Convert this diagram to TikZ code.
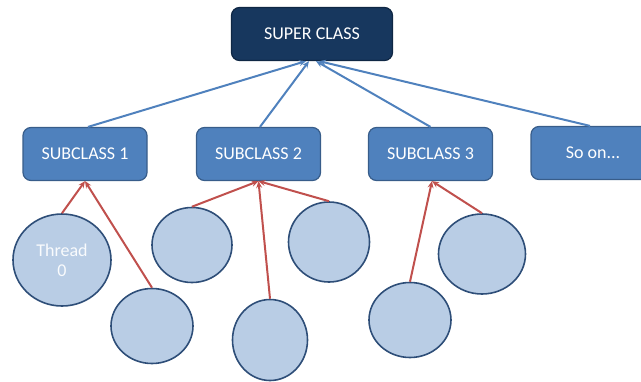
\documentclass[tikz,border=0pt]{standalone}
\usepackage{fontspec}
\setmainfont{Carlito}
\usetikzlibrary{arrows.meta,shapes.geometric}
\definecolor{navy}{HTML}{17375E}
\definecolor{navyedge}{HTML}{0F2744}
\definecolor{accent}{HTML}{4F81BD}
\definecolor{accentedge}{HTML}{385D8A}
\definecolor{paleblue}{HTML}{B9CDE5}
\definecolor{ringedge}{HTML}{2E4E78}
\definecolor{redline}{HTML}{C0504D}
\tikzset{
  rootbox/.style={draw=navyedge, line width=1.2pt, fill=navy, rounded corners=8pt,
    minimum width=161pt, minimum height=53pt, inner sep=0pt, text=white,
    font=\fontsize{18}{21}\selectfont},
  classbox/.style={draw=accentedge, line width=1.2pt, fill=accent, rounded corners=8pt,
    minimum width=124pt, minimum height=53pt, inner sep=0pt, text=white,
    font=\fontsize{18}{21}\selectfont},
  threadnode/.style={ellipse, draw=ringedge, line width=1.6pt, fill=paleblue,
    inner sep=0pt, text=white!92!paleblue, align=center,
    font=\fontsize{18}{20}\selectfont},
  inherit/.style={draw=accent, line width=2pt,
    -{Stealth[length=7pt,width=6pt,inset=2.5pt]}},
  member/.style={draw=redline, line width=2pt,
    -{Stealth[length=7pt,width=6pt,inset=2.5pt]}},
}
\begin{document}
\begin{tikzpicture}[x=1pt,y=-1pt]
\useasboundingbox (0,0) rectangle (641,381);
\clip (0,0) rectangle (641,381);

% class hierarchy
\node[rootbox]  (sup)  at (312,34)    {SUPER CLASS};
\node[classbox] (sub1) at (85,154)    {SUBCLASS 1};
\node[classbox] (sub2) at (258.5,154) {SUBCLASS 2};
\node[classbox] (sub3) at (430.5,154) {SUBCLASS 3};
\node[classbox] (more) at (593,153)   {So on...};

% threads
\node[threadnode, minimum width=98pt, minimum height=92pt] (t0) at (62,260)  {Thread\\0};
\node[threadnode, minimum width=82pt, minimum height=75pt] (t1) at (152,326) {};
\node[threadnode, minimum width=80pt, minimum height=75pt] (t2) at (192,245) {};
\node[threadnode, minimum width=81pt, minimum height=80pt] (t3) at (329,242) {};
\node[threadnode, minimum width=75pt, minimum height=81pt] (t4) at (270,340) {};
\node[threadnode, minimum width=82pt, minimum height=75pt] (t5) at (410,320) {};
\node[threadnode, minimum width=87pt, minimum height=80pt] (t6) at (482,254) {};

% subclasses point to the super class
\draw[inherit] ([xshift=3pt]sub1.north)  -- ([xshift=-6pt]sup.south);
\draw[inherit] ([xshift=1.5pt]sub2.north) -- ([xshift=-3pt]sup.south);
\draw[inherit] (sub3.north)               -- ([xshift=4pt]sup.south);
\draw[inherit] ([xshift=-3pt]more.north)  -- ([xshift=7pt]sup.south);

% threads point to their classes
\draw[member] (t0.north) -- (sub1.south);
\draw[member] (t1.north) -- (sub1.south);
\draw[member] (t2.north) -- (sub2.south);
\draw[member] (t3.north) -- (sub2.south);
\draw[member] (t4.north) -- (sub2.south);
\draw[member] (t5.north) -- ([xshift=1.5pt]sub3.south);
\draw[member] (t6.north) -- ([xshift=1.5pt]sub3.south);
\end{tikzpicture}
\end{document}
